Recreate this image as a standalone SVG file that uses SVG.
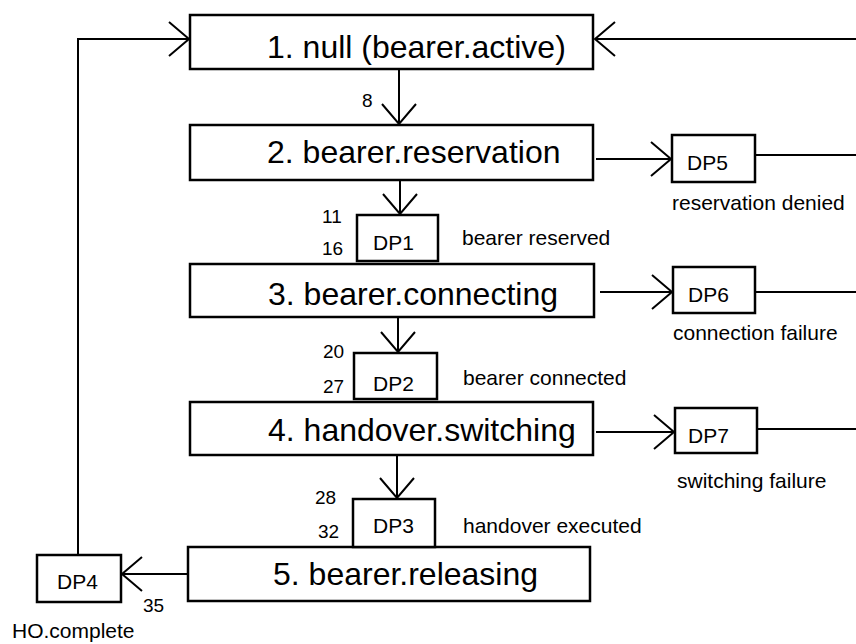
<svg xmlns="http://www.w3.org/2000/svg" width="856" height="644" viewBox="0 0 856 644">
  <defs>
    <style>
      .box { fill: #fff; stroke: #000; stroke-width: 2.5; }
      .conn { fill: none; stroke: #000; stroke-width: 2; }
      .big { font-family: "Liberation Sans", Arial, sans-serif; font-size: 32px; fill: #000; }
      .lbl { font-family: "Liberation Sans", Arial, sans-serif; font-size: 21px; fill: #000; }
      .num { font-family: "Liberation Sans", Arial, sans-serif; font-size: 19px; fill: #000; }
    </style>
    <!-- open V arrowhead -->
    <marker id="vee" markerUnits="userSpaceOnUse" viewBox="-22 -18 24 36" markerWidth="24" markerHeight="36" refX="0" refY="0" orient="auto" overflow="visible">
      <path d="M-20,-17 L0,0 L-20,17" fill="none" stroke="#000" stroke-width="2"/>
    </marker>
  </defs>

  <rect width="856" height="644" fill="#fff"/>

  <!-- connectors -->
  <g id="connectors">
    <path class="conn" d="M399,69 V124" marker-end="url(#vee)"/>
    <path class="conn" d="M400,180 V214" marker-end="url(#vee)"/>
    <path class="conn" d="M398,317 V352" marker-end="url(#vee)"/>
    <path class="conn" d="M397,455 V498" marker-end="url(#vee)"/>
    <path class="conn" d="M596,159 H671" marker-end="url(#vee)"/>
    <path class="conn" d="M600,292 H672" marker-end="url(#vee)"/>
    <path class="conn" d="M596,432 H674" marker-end="url(#vee)"/>
    <path class="conn" d="M188,574 H122" marker-end="url(#vee)"/>
    <path class="conn" d="M78,555 V39 H189" marker-end="url(#vee)"/>
    <path class="conn" d="M755,155 H864 V39 H595" marker-end="url(#vee)"/>
    <path class="conn" d="M755,292 H864 V155"/>
    <path class="conn" d="M757,429 H864 V292"/>
  </g>

  <!-- states -->
  <g id="state1">
    <rect class="box" x="190" y="15" width="403" height="54"/>
    <text class="big" x="267" y="58">1. null (bearer.active)</text>
  </g>
  <g id="state2">
    <rect class="box" x="190" y="125" width="403" height="55"/>
    <text class="big" x="267" y="163">2. bearer.reservation</text>
  </g>
  <g id="state3">
    <rect class="box" x="190" y="264" width="404" height="53"/>
    <text class="big" x="268" y="305">3. bearer.connecting</text>
  </g>
  <g id="state4">
    <rect class="box" x="190" y="402" width="403" height="53"/>
    <text class="big" x="268" y="441">4. handover.switching</text>
  </g>
  <g id="state5">
    <rect class="box" x="188" y="547" width="402" height="54"/>
    <text class="big" x="273" y="585">5. bearer.releasing</text>
  </g>

  <!-- detection points -->
  <g id="dp1">
    <rect class="box" x="357" y="215" width="81" height="46"/>
    <text class="lbl" x="373" y="250">DP1</text>
    <text class="num" x="322" y="223">11</text>
    <text class="num" x="322" y="255">16</text>
    <text class="lbl" x="462" y="245">bearer reserved</text>
  </g>
  <g id="dp2">
    <rect class="box" x="354" y="353" width="83" height="46"/>
    <text class="lbl" x="373" y="391">DP2</text>
    <text class="num" x="323" y="358">20</text>
    <text class="num" x="323" y="393">27</text>
    <text class="lbl" x="463" y="385">bearer connected</text>
  </g>
  <g id="dp3">
    <rect class="box" x="353" y="499" width="82" height="48"/>
    <text class="lbl" x="373" y="533">DP3</text>
    <text class="num" x="315" y="504">28</text>
    <text class="num" x="318" y="538">32</text>
    <text class="lbl" x="463" y="533">handover executed</text>
  </g>
  <g id="dp4">
    <rect class="box" x="37" y="555" width="84" height="47"/>
    <text class="lbl" x="57" y="589">DP4</text>
    <text class="num" x="143" y="612">35</text>
    <text class="lbl" x="12" y="638">HO.complete</text>
  </g>
  <g id="dp5">
    <rect class="box" x="672" y="135" width="83" height="47"/>
    <text class="lbl" x="687" y="170">DP5</text>
    <text class="lbl" x="672" y="210">reservation denied</text>
  </g>
  <g id="dp6">
    <rect class="box" x="673" y="267" width="82" height="46"/>
    <text class="lbl" x="688" y="302">DP6</text>
    <text class="lbl" x="673" y="340">connection failure</text>
  </g>
  <g id="dp7">
    <rect class="box" x="675" y="408" width="82" height="45"/>
    <text class="lbl" x="688" y="443">DP7</text>
    <text class="lbl" x="677" y="488">switching failure</text>
  </g>

  <g id="label8">
    <text class="num" x="362" y="107">8</text>
  </g>
</svg>
